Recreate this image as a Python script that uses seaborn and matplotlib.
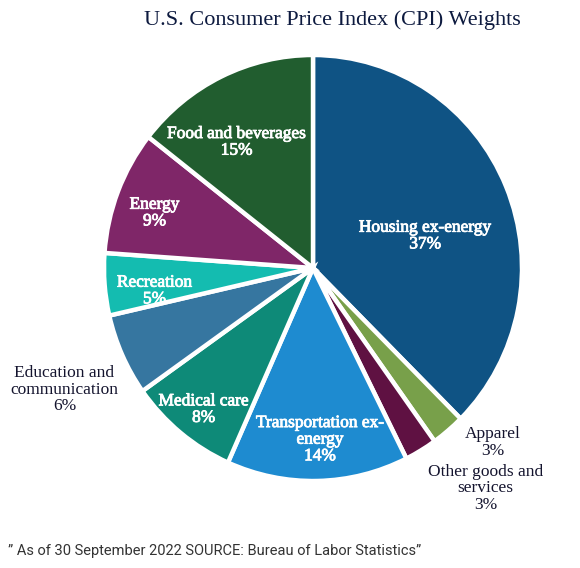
import matplotlib
matplotlib.use("Agg")
import matplotlib.pyplot as plt
import matplotlib.patheffects as pe
import seaborn as sns

categories = ["Housing ex-energy", "Apparel", "Other goods and services",
              "Transportation ex-energy", "Medical care",
              "Education and communication", "Recreation", "Energy",
              "Food and beverages"]
weights = [37.4, 2.6, 2.5, 14.0, 8.5, 6.2, 4.7, 9.4, 14.4]
pct_labels = ["37%", "3%", "3%", "14%", "8%", "6%", "5%", "9%", "15%"]
display_names = ["Housing ex-energy", "Apparel", "Other goods and\nservices",
                 "Transportation ex-\nenergy", "Medical care",
                 "Education and\ncommunication", "Recreation", "Energy",
                 "Food and beverages"]
colors = ["#0f5384", "#78a04a", "#5f1142", "#1e8bd0", "#0e8a78",
          "#3676a0", "#14bcb0", "#7f2668", "#215d2f"]

# label styling / placement (positions, not data)
label_pos = [(0.537, 0.150), (0.858, -0.820), (0.825, -1.035),
             (0.034, -0.806), (-0.523, -0.665), (-1.189, -0.571),
             (-0.758, -0.108), (-0.758, 0.258), (-0.365, 0.590)]
inside = [True, False, False, True, True, False, True, True, True]

sns.set_theme(style="white")
plt.rcParams['font.family'] = ['Liberation Serif', 'DejaVu Serif']

W, H = 580, 568
fig = plt.figure(figsize=(W / 100, H / 100), dpi=100)
cx, cy, rx, ry = 313, 268, 209, 213
ax = fig.add_axes([(cx - rx) / W, (H - cy - ry) / H, 2 * rx / W, 2 * ry / H])

palette = sns.color_palette(colors)
wedges, _ = ax.pie(weights, colors=palette, startangle=90, counterclock=False,
                   wedgeprops=dict(edgecolor="white", linewidth=3.2))
ax.set_aspect("auto")
ax.set_xlim(-1.0, 1.0)
ax.set_ylim(-1.0, 1.0)
ax.axis("off")

for name, pct, (x, y), ins in zip(display_names, pct_labels, label_pos, inside):
    t = ax.text(x, y, f"{name}\n{pct}", ha="center", va="center",
                fontsize=12.5, linespacing=1.05,
                color="white" if ins else "#14142e", clip_on=False)
    if ins:
        t.set_path_effects([pe.withStroke(linewidth=0.6, foreground="white")])

fig.text(332 / W, 1 - 20 / H, "U.S. Consumer Price Index (CPI) Weights",
         ha="center", va="center", fontsize=16, color="#0d1a3f")
fig.text(8 / W, 1 - 551 / H,
         "\u201d As of 30 September 2022 SOURCE: Bureau of Labor Statistics\u201d",
         ha="left", va="center", fontsize=10.5, color="#333333",
         family=["Roboto", "DejaVu Sans"])

fig.savefig("out.png", dpi=100)
